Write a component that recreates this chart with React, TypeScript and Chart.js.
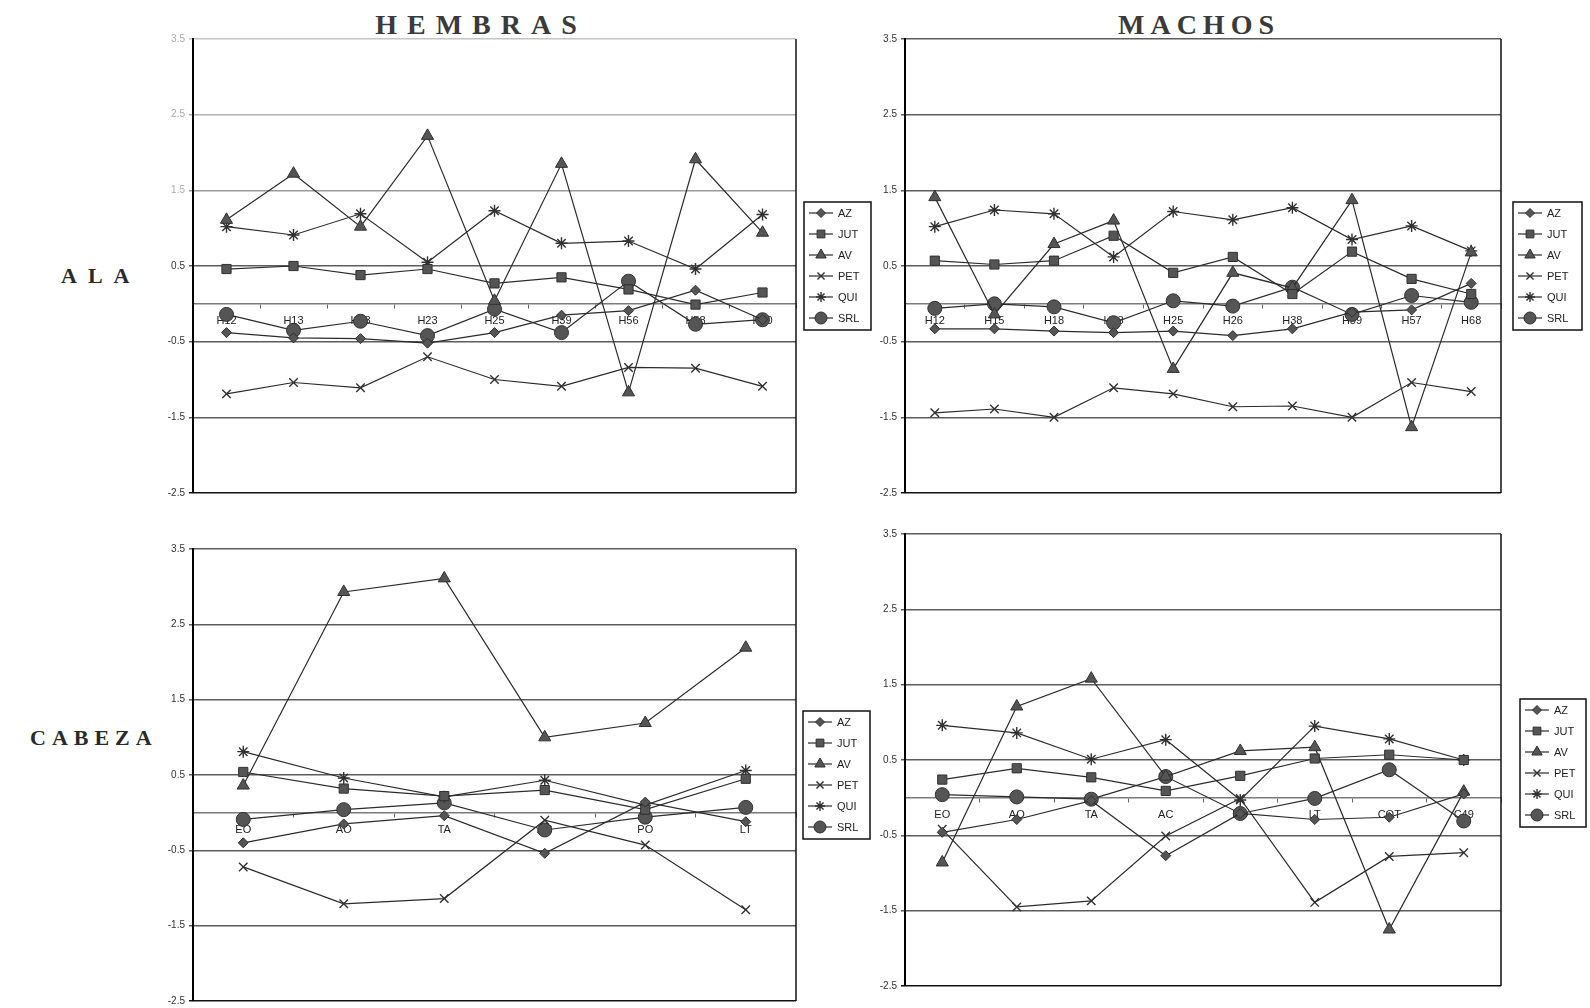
import React, { useEffect, useRef } from "react";
import { Chart, registerables } from "chart.js";
import { drawPoint } from "chart.js/helpers";

Chart.register(...registerables);

// ---------- data ----------
const SERIES = ["AZ", "JUT", "AV", "PET", "QUI", "SRL"];
const POINT_STYLES = ["rectRot", "rect", "triangle", "crossRot", "star", "circle"];
const POINT_RADII = [5, 6.5, 7, 6, 6, 7];

const Y_MIN = -2.5;
const Y_MAX = 3.5;
const Y_STEP = 1;

// ALA - HEMBRAS
const alaHembrasLabels = ["H12", "H13", "H18", "H23", "H25", "H39", "H56", "H58", "H60"];
const alaHembrasAZ = [-0.38, -0.45, -0.46, -0.52, -0.38, -0.15, -0.09, 0.18, -0.21];
const alaHembrasJUT = [0.46, 0.5, 0.38, 0.46, 0.27, 0.35, 0.19, -0.01, 0.15];
const alaHembrasAV = [1.11, 1.72, 1.02, 2.22, 0.04, 1.85, -1.17, 1.91, 0.94];
const alaHembrasPET = [-1.19, -1.04, -1.11, -0.7, -1.0, -1.09, -0.84, -0.85, -1.09];
const alaHembrasQUI = [1.02, 0.91, 1.19, 0.55, 1.23, 0.8, 0.83, 0.46, 1.18];
const alaHembrasSRL = [-0.14, -0.35, -0.23, -0.42, -0.07, -0.38, 0.3, -0.27, -0.21];

// ALA - MACHOS
const alaMachosLabels = ["H12", "H15", "H18", "H28", "H25", "H26", "H38", "H59", "H57", "H68"];
const alaMachosAZ = [-0.33, -0.33, -0.36, -0.38, -0.36, -0.42, -0.33, -0.11, -0.08, 0.27];
const alaMachosJUT = [0.57, 0.52, 0.57, 0.9, 0.41, 0.62, 0.13, 0.69, 0.33, 0.13];
const alaMachosAV = [1.41, -0.14, 0.79, 1.1, -0.86, 0.41, 0.21, 1.37, -1.63, 0.68];
const alaMachosPET = [-1.44, -1.39, -1.5, -1.11, -1.19, -1.36, -1.35, -1.5, -1.04, -1.16];
const alaMachosQUI = [1.02, 1.24, 1.19, 0.62, 1.22, 1.11, 1.27, 0.85, 1.03, 0.7];
const alaMachosSRL = [-0.06, 0.0, -0.04, -0.25, 0.04, -0.03, 0.22, -0.14, 0.11, 0.02];

// CABEZA - HEMBRAS
const cabezaHembrasLabels = ["EO", "AO", "TA", "AC", "PO", "LT"];
const cabezaHembrasAZ = [-0.4, -0.15, -0.04, -0.54, 0.14, -0.12];
const cabezaHembrasJUT = [0.54, 0.32, 0.22, 0.3, 0.04, 0.45];
const cabezaHembrasAV = [0.36, 2.93, 3.11, 1.0, 1.19, 2.19];
const cabezaHembrasPET = [-0.72, -1.21, -1.14, -0.1, -0.43, -1.29];
const cabezaHembrasQUI = [0.81, 0.46, 0.21, 0.43, 0.1, 0.56];
const cabezaHembrasSRL = [-0.09, 0.04, 0.13, -0.23, -0.06, 0.07];

// CABEZA - MACHOS
const cabezaMachosLabels = ["EO", "AO", "TA", "AC", "PO", "LT", "COT", "C49"];
const cabezaMachosAZ = [-0.46, -0.29, -0.04, -0.77, -0.21, -0.29, -0.26, 0.05];
const cabezaMachosJUT = [0.24, 0.39, 0.27, 0.09, 0.29, 0.52, 0.57, 0.5];
const cabezaMachosAV = [-0.86, 1.21, 1.58, 0.28, 0.62, 0.67, -1.75, 0.08];
const cabezaMachosPET = [-0.42, -1.45, -1.37, -0.51, -0.01, -1.39, -0.78, -0.73];
const cabezaMachosQUI = [0.96, 0.86, 0.51, 0.77, -0.03, 0.95, 0.78, 0.5];
const cabezaMachosSRL = [0.04, 0.01, -0.02, 0.28, -0.21, -0.01, 0.37, -0.31];

// ---------- styling ----------
const FONT = "'Liberation Sans', Arial, sans-serif";
const SERIF = "'Liberation Serif', 'Times New Roman', serif";
const LINE = "#2b2b2b";
const MARK = "#555555";
const MARK_EDGE = "#303030";
const LEGEND_RADII = [4.5, 5.5, 6, 5, 5, 6];

const decorPlugin = {
  id: "panelDecor",
  afterDraw(chart: any, _args: any, opts: any) {
    const ctx = chart.ctx;
    const ca = chart.chartArea;
    ctx.save();
    // right frame
    ctx.strokeStyle = "#111";
    ctx.lineWidth = 1.5;
    ctx.beginPath();
    ctx.moveTo(ca.right, ca.top);
    ctx.lineTo(ca.right, ca.bottom);
    ctx.stroke();

    // legend
    const { x, y, w, h, first, step } = opts;
    ctx.fillStyle = "#ffffff";
    ctx.fillRect(x, y, w, h);
    ctx.strokeStyle = "#111";
    ctx.lineWidth = 1.5;
    ctx.strokeRect(x, y, w, h);
    chart.data.datasets.forEach((ds: any, i: number) => {
      const ry = y + first + i * step;
      ctx.strokeStyle = LINE;
      ctx.lineWidth = 1.2;
      ctx.beginPath();
      ctx.moveTo(x + 5, ry);
      ctx.lineTo(x + 29, ry);
      ctx.stroke();
      ctx.fillStyle = MARK;
      ctx.strokeStyle = MARK_EDGE;
      ctx.lineWidth = ds.pointBorderWidth;
      drawPoint(
        ctx,
        { pointStyle: ds.pointStyle, radius: LEGEND_RADII[i], borderWidth: ds.pointBorderWidth, rotation: 0 },
        x + 17,
        ry
      );
      ctx.fillStyle = "#222";
      ctx.font = `11px ${FONT}`;
      ctx.textAlign = "left";
      ctx.textBaseline = "middle";
      ctx.fillText(ds.label, x + 34, ry + 1);
    });
    ctx.restore();
  },
};

type PanelProps = {
  labels: string[];
  series: number[][];
  plot: { left: number; top: number; right: number; bottom: number };
  legend: { x: number; y: number; w: number; h: number };
  faded?: boolean;
};

function Panel({ labels, series, plot, legend, faded }: PanelProps) {
  const ref = useRef<HTMLCanvasElement | null>(null);
  const axisW = 43;
  const padL = 12;
  const padT = 14;
  const padB = 14;
  const cx = plot.left - axisW - padL;
  const cy = plot.top - padT;
  const cRight = Math.min(legend.x + legend.w + 3, 1590);
  const cw = cRight - cx;
  const ch = plot.bottom + padB - cy;
  const padR = cRight - plot.right;

  useEffect(() => {
    if (!ref.current) return;
    const gridColor = (ctx: any) => {
      const v = ctx.tick ? ctx.tick.value : 0;
      if (Math.abs(v - Y_MIN) < 1e-6) return "#111";
      if (faded) {
        if (v > 3) return "#c4c4c4";
        if (v > 2) return "#b0b0b0";
        if (v > 1) return "#9a9a9a";
      }
      return "#5c5c5c";
    };
    const tickColor = (ctx: any) => {
      const v = ctx.tick ? ctx.tick.value : 0;
      if (faded && v > 1) return "#aaaaaa";
      return "#333";
    };
    const chart = new Chart(ref.current, {
      type: "line",
      data: {
        labels,
        datasets: series.map((vals, i) => ({
          label: SERIES[i],
          data: vals,
          borderColor: LINE,
          borderWidth: 1.2,
          pointStyle: POINT_STYLES[i] as any,
          pointRadius: POINT_RADII[i],
          pointBackgroundColor: MARK,
          pointBorderColor: MARK_EDGE,
          pointBorderWidth: i === 3 || i === 4 ? 1.4 : 1,
          tension: 0,
          fill: false,
        })),
      },
      options: {
        responsive: false,
        animation: false,
        devicePixelRatio: 1,
        layout: { padding: { left: padL, top: padT, right: padR, bottom: padB } },
        plugins: {
          legend: { display: false },
          tooltip: { enabled: false },
          panelDecor: { x: legend.x - cx, y: legend.y - cy, w: legend.w, h: legend.h, first: 11, step: 21 },
        } as any,
        scales: {
          x: {
            type: "category",
            position: { y: 0 } as any,
            offset: true,
            grid: { display: true, drawOnChartArea: false, drawTicks: true, tickLength: 4, offset: true, color: "#666" },
            border: { display: true, color: "#7a7a7a", width: 1.5 },
            ticks: { font: { size: 11, family: FONT }, color: "#222", padding: 7, maxRotation: 0, autoSkip: false },
          },
          y: {
            type: "linear",
            min: Y_MIN,
            max: Y_MAX,
            ticks: {
              stepSize: Y_STEP,
              font: { size: 10, family: FONT },
              color: tickColor as any,
              padding: 4,
              callback: (v: any) => Number(v).toFixed(1),
            },
            grid: { color: gridColor as any, lineWidth: 1.5, drawTicks: true, tickLength: 4 },
            border: { display: true, color: "#000", width: 2 },
            afterFit: (s: any) => {
              s.width = axisW;
            },
          },
        },
      },
      plugins: [decorPlugin],
    });
    return () => chart.destroy();
  }, []);

  return (
    <canvas
      ref={ref}
      width={cw}
      height={ch}
      style={{ position: "absolute", left: cx, top: cy, width: cw, height: ch }}
    />
  );
}

const titleStyle: React.CSSProperties = {
  position: "absolute",
  width: 400,
  textAlign: "center",
  fontFamily: SERIF,
  fontWeight: "bold",
  fontSize: 28,
  color: "#3a3a3a",
  lineHeight: "30px",
};

const rowStyle: React.CSSProperties = {
  position: "absolute",
  fontFamily: SERIF,
  fontWeight: "bold",
  fontSize: 22,
  color: "#2a2a2a",
  lineHeight: "24px",
};

export default function App() {
  return (
    <div
      style={{
        position: "absolute",
        left: 0,
        top: 0,
        width: 1590,
        height: 1008,
        overflow: "hidden",
        background: "#ffffff",
      }}
    >
      <div style={{ ...titleStyle, left: 481 - 200, top: 10, letterSpacing: 10 }}>HEMBRAS</div>
      <div style={{ ...titleStyle, left: 1199 - 200, top: 10, letterSpacing: 6 }}>MACHOS</div>
      <div style={{ ...rowStyle, left: 61, top: 264, letterSpacing: 11 }}>ALA</div>
      <div style={{ ...rowStyle, left: 30, top: 726, letterSpacing: 6 }}>CABEZA</div>

      <Panel
        labels={alaHembrasLabels}
        series={[alaHembrasAZ, alaHembrasJUT, alaHembrasAV, alaHembrasPET, alaHembrasQUI, alaHembrasSRL]}
        plot={{ left: 193, top: 39, right: 796, bottom: 493 }}
        legend={{ x: 804, y: 202, w: 67, h: 128 }}
        faded
      />
      <Panel
        labels={alaMachosLabels}
        series={[alaMachosAZ, alaMachosJUT, alaMachosAV, alaMachosPET, alaMachosQUI, alaMachosSRL]}
        plot={{ left: 905, top: 39, right: 1501, bottom: 493 }}
        legend={{ x: 1513, y: 202, w: 69, h: 128 }}
      />
      <Panel
        labels={cabezaHembrasLabels}
        series={[cabezaHembrasAZ, cabezaHembrasJUT, cabezaHembrasAV, cabezaHembrasPET, cabezaHembrasQUI, cabezaHembrasSRL]}
        plot={{ left: 193, top: 549, right: 796, bottom: 1001 }}
        legend={{ x: 803, y: 711, w: 67, h: 128 }}
      />
      <Panel
        labels={cabezaMachosLabels}
        series={[cabezaMachosAZ, cabezaMachosJUT, cabezaMachosAV, cabezaMachosPET, cabezaMachosQUI, cabezaMachosSRL]}
        plot={{ left: 905, top: 534, right: 1501, bottom: 986 }}
        legend={{ x: 1520, y: 699, w: 66, h: 128 }}
      />
    </div>
  );
}
